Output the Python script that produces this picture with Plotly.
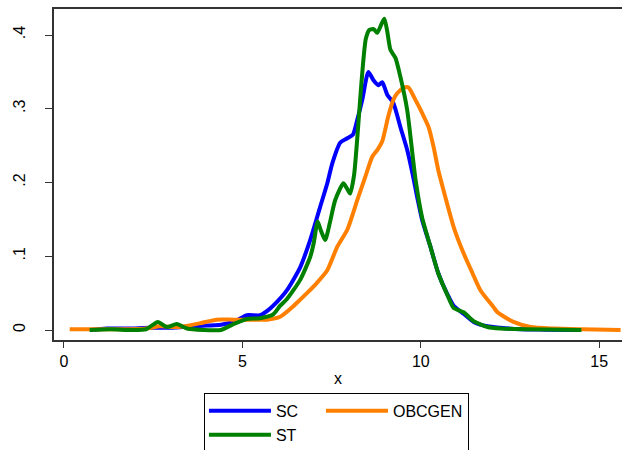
import plotly.graph_objects as go

# ---- data ----
sc_x = [0.72, 1.2, 1.8, 2.4, 3.0, 3.6, 4.0, 4.4, 4.8, 5.13, 5.5, 5.75, 5.97, 6.25, 6.62, 6.90,
        7.18, 7.38, 7.52, 7.74, 7.94, 8.10, 8.22, 8.36, 8.53, 8.67, 8.81, 8.92, 9.06, 9.23,
        9.43, 9.62, 9.79, 9.90, 10.04, 10.27, 10.49, 10.75, 10.92, 11.2, 11.48, 11.87, 12.23,
        12.8, 13.5, 14.5]
sc_y = [0.0, 0.002, 0.002, 0.003, 0.003, 0.005, 0.006, 0.007, 0.012, 0.020, 0.020, 0.028,
        0.038, 0.054, 0.085, 0.122, 0.167, 0.199, 0.226, 0.254, 0.260, 0.265, 0.285, 0.312,
        0.350, 0.339, 0.332, 0.336, 0.319, 0.308, 0.275, 0.244, 0.207, 0.180, 0.149, 0.113,
        0.077, 0.048, 0.033, 0.022, 0.011, 0.005, 0.003, 0.001, 0.0005, 0.0]

st_x = [0.72, 1.3, 1.9, 2.3, 2.63, 2.88, 3.16, 3.45, 3.9, 4.4, 4.75, 5.13, 5.49, 5.86, 6.06,
        6.25, 6.62, 6.90, 7.00, 7.11, 7.20, 7.32, 7.45, 7.60, 7.83, 7.93, 8.02, 8.13, 8.22,
        8.30, 8.38, 8.46, 8.56, 8.68, 8.78, 8.90, 8.98, 9.06, 9.15, 9.29, 9.43, 9.62, 9.85,
        10.04, 10.27, 10.49, 10.75, 10.92, 11.2, 11.48, 11.87, 12.23, 13.0, 14.5]
st_y = [0.0, 0.001, 0.0, 0.001, 0.011, 0.004, 0.008, 0.002, 0.0, 0.0, 0.008, 0.015, 0.016,
        0.021, 0.033, 0.042, 0.068, 0.099, 0.118, 0.147, 0.135, 0.122, 0.145, 0.176, 0.199,
        0.192, 0.185, 0.210, 0.260, 0.312, 0.360, 0.395, 0.407, 0.408, 0.403, 0.415, 0.422,
        0.405, 0.380, 0.369, 0.343, 0.298, 0.205, 0.152, 0.113, 0.077, 0.047, 0.030, 0.024,
        0.012, 0.004, 0.002, 0.001, 0.0]

ob_x = [0.16, 0.6, 1.2, 1.8, 2.3, 2.7, 3.2, 3.8, 4.28, 4.75, 5.22, 5.69, 6.06, 6.42, 6.53,
        6.81, 7.09, 7.38, 7.66, 7.94, 8.22, 8.44, 8.64, 8.78, 8.92, 9.09, 9.23, 9.34, 9.51,
        9.65, 9.85, 10.04, 10.22, 10.36, 10.49, 10.69, 10.92, 11.2, 11.45, 11.67, 12.04,
        12.15, 12.6, 13.08, 13.73, 14.5, 15.6]
ob_y = [0.001, 0.001, 0.001, 0.001, 0.002, 0.005, 0.004, 0.009, 0.014, 0.014, 0.014, 0.014,
        0.018, 0.032, 0.037, 0.050, 0.064, 0.081, 0.113, 0.136, 0.176, 0.207, 0.235, 0.244,
        0.256, 0.290, 0.312, 0.321, 0.328, 0.329, 0.312, 0.294, 0.275, 0.248, 0.217, 0.180,
        0.140, 0.104, 0.077, 0.054, 0.031, 0.024, 0.011, 0.004, 0.002, 0.001, 0.0]

y_tickvals = [0, 0.1, 0.2, 0.3, 0.4]
y_ticktext = ["0", ".1", ".2", ".3", ".4"]
x_tickvals = [0, 5, 10, 15]

FONT = "Liberation Sans, Arial, sans-serif"
BLUE = "#0000FF"
GREEN = "#008000"
ORANGE = "#FF8000"

fig = go.Figure()
fig.add_trace(go.Scatter(x=sc_x, y=sc_y, name="SC", mode="lines",
                         line=dict(color=BLUE, width=4, shape="spline", smoothing=0.6),
                         legendgroup="g1", legendwidth=40))
fig.add_trace(go.Scatter(x=ob_x, y=ob_y, name="OBCGEN", mode="lines",
                         line=dict(color=ORANGE, width=4, shape="spline", smoothing=0.6),
                         legendgroup="g2"))
fig.add_trace(go.Scatter(x=st_x, y=st_y, name="ST", mode="lines",
                         line=dict(color=GREEN, width=4, shape="spline", smoothing=0.6),
                         legendgroup="g1", legendwidth=40))

fig.update_layout(
    width=622, height=450,
    margin=dict(l=54, r=0, t=9, b=110, autoexpand=False),
    paper_bgcolor="white", plot_bgcolor="white",
    font=dict(family=FONT, size=16, color="black"),
    showlegend=True,
    legend=dict(orientation="h", traceorder="grouped",
                x=0.264, xanchor="left", y=-0.160, yanchor="top",
                bordercolor="black", borderwidth=1, bgcolor="white",
                itemwidth=62, tracegroupgap=0,
                font=dict(family=FONT, size=16, color="black")),
    xaxis=dict(range=[-0.28, 15.64], tickvals=x_tickvals, showgrid=False, zeroline=False,
               showline=True, linecolor="#333333", linewidth=1.5, mirror=True,
               ticks="outside", ticklen=6, tickcolor="#333333", ticklabelstandoff=0,
               title=dict(text="x", standoff=4, font=dict(size=16))),
    yaxis=dict(range=[-0.01356, 0.4353], tickvals=y_tickvals, ticktext=y_ticktext,
               tickangle=-90, showgrid=False, zeroline=False,
               showline=True, linecolor="#333333", linewidth=1.5,
               ticks="outside", ticklen=7, tickcolor="#333333", ticklabelstandoff=14),
)

fig.write_html("out.html", config={"displayModeBar": False},
               post_script="document.body.style.margin='0';")
